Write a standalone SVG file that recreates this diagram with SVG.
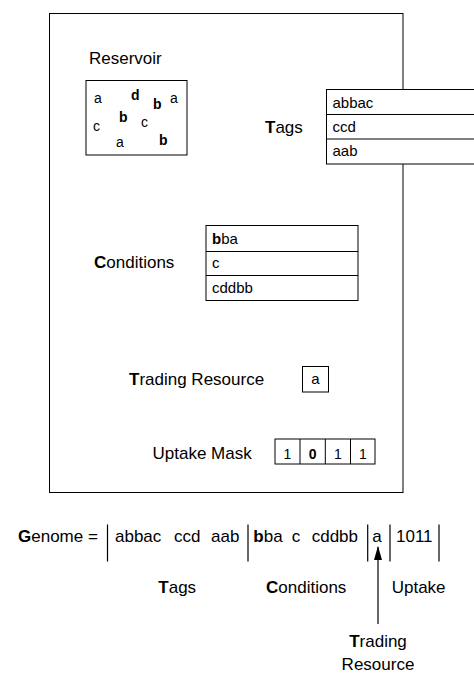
<svg xmlns="http://www.w3.org/2000/svg" width="474" height="673" viewBox="0 0 474 673">
<style>
text{font-family:"Liberation Sans",Arial,sans-serif;fill:#000}
.lbl{font-size:17px}
.cell{font-size:15px}
.res{font-size:14px}
.box{fill:#fff;stroke:#000;stroke-width:1}
.bar{stroke:#000;stroke-width:1.2}
.thin{stroke:#000;stroke-width:1}
.b{font-weight:bold}
</style>
<defs>
<marker id="ah" markerWidth="14" markerHeight="8" refX="13" refY="4" orient="auto" markerUnits="userSpaceOnUse" viewBox="0 0 14 8">
<path d="M0,0 L14,4 L0,8 Z" fill="#000"/>
</marker>
</defs>
<g id="cell-container">
<rect class="box" x="49.5" y="13.5" width="353.5" height="479"/>
</g>
<g id="reservoir">
<text class="lbl" x="89" y="64">Reservoir</text>
<rect class="box" x="86" y="80.5" width="101" height="74.5"/>
<text class="res" x="94" y="103">a</text>
<text class="res b" x="131" y="100">d</text>
<text class="res b" x="153" y="109">b</text>
<text class="res" x="170" y="103">a</text>
<text class="res" x="93" y="131">c</text>
<text class="res b" x="119" y="122">b</text>
<text class="res" x="141" y="127">c</text>
<text class="res" x="116" y="147">a</text>
<text class="res b" x="159" y="145">b</text>
</g>
<g id="tags">
<text class="lbl" x="265" y="132.5"><tspan class="b">T</tspan>ags</text>
<rect class="box" x="326.5" y="89.5" width="160" height="74.5"/>
<line class="thin" x1="326.5" y1="114.5" x2="480" y2="114.5"/>
<line class="thin" x1="326.5" y1="139" x2="480" y2="139"/>
<text class="cell" x="332.5" y="107.5">abbac</text>
<text class="cell" x="332.5" y="132">ccd</text>
<text class="cell" x="332.5" y="156">aab</text>
</g>
<g id="conditions">
<text class="lbl" x="94" y="268"><tspan class="b">C</tspan>onditions</text>
<rect class="box" x="206" y="225.5" width="152" height="75"/>
<line class="thin" x1="206" y1="251.5" x2="358" y2="251.5"/>
<line class="thin" x1="206" y1="275.5" x2="358" y2="275.5"/>
<text class="cell" x="212" y="243.5"><tspan class="b">b</tspan>ba</text>
<text class="cell" x="212" y="267.5">c</text>
<text class="cell" x="212" y="292.5">cddbb</text>
</g>
<g id="trading-resource">
<text class="lbl" x="129" y="385"><tspan class="b">T</tspan>rading Resource</text>
<rect class="box" x="302.5" y="366.5" width="26" height="25.5"/>
<text class="cell" x="315.5" y="384" text-anchor="middle">a</text>
</g>
<g id="uptake-mask">
<text class="lbl" x="152.5" y="458.5">Uptake Mask</text>
<rect class="box" x="275" y="439" width="100" height="25"/>
<line class="thin" x1="300" y1="439" x2="300" y2="464"/>
<line class="thin" x1="325.3" y1="439" x2="325.3" y2="464"/>
<line class="thin" x1="350.5" y1="439" x2="350.5" y2="464"/>
<text class="res" x="287.5" y="459" text-anchor="middle">1</text>
<text class="res b" x="312.7" y="459" text-anchor="middle">0</text>
<text class="res" x="338" y="459" text-anchor="middle">1</text>
<text class="res" x="362.8" y="459" text-anchor="middle">1</text>
</g>
<g id="genome">
<text class="lbl" x="18" y="541.7"><tspan class="b">G</tspan>enome =</text>
<line class="bar" x1="107.5" y1="524.5" x2="107.5" y2="561.5"/>
<text class="lbl" x="115" y="541.7">abbac</text>
<text class="lbl" x="174" y="541.7">ccd</text>
<text class="lbl" x="211" y="541.7">aab</text>
<line class="bar" x1="248" y1="524.5" x2="248" y2="561.5"/>
<text class="lbl" x="253.3" y="541.7"><tspan class="b">b</tspan>ba</text>
<text class="lbl" x="291.7" y="541.7">c</text>
<text class="lbl" x="311.7" y="541.7">cddbb</text>
<line class="bar" x1="367.7" y1="524.5" x2="367.7" y2="561.5"/>
<text class="lbl" x="372.3" y="541.7">a</text>
<line class="bar" x1="390" y1="524.5" x2="390" y2="561.5"/>
<text class="lbl" x="396" y="541.7">1011</text>
<line class="bar" x1="439" y1="524.5" x2="439" y2="561.5"/>
</g>
<g id="genome-labels">
<text class="lbl" x="158.3" y="593.3"><tspan class="b">T</tspan>ags</text>
<text class="lbl" x="266" y="593.3"><tspan class="b">C</tspan>onditions</text>
<text class="lbl" x="391.7" y="593.3">Uptake</text>
<text class="lbl" x="378" y="646.5" text-anchor="middle"><tspan class="b">T</tspan>rading</text>
<text class="lbl" x="378" y="670" text-anchor="middle">Resource</text>
</g>
<g id="connectors">
<line x1="378" y1="624" x2="378" y2="547" stroke="#000" stroke-width="1.2" marker-end="url(#ah)"/>
</g>
</svg>
